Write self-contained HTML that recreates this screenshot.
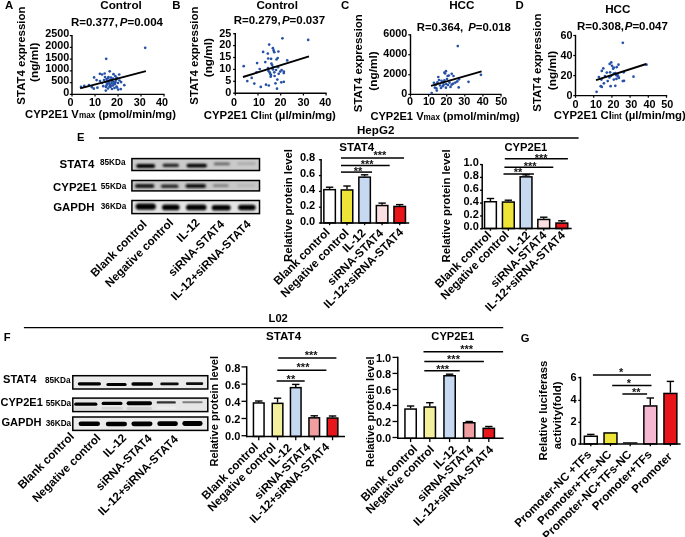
<!DOCTYPE html>
<html><head><meta charset="utf-8"><style>
html,body{margin:0;padding:0;background:#fff;}
svg{display:block;will-change:transform;}
text{font-family:"Liberation Sans", sans-serif;}
</style></head><body>
<svg width="685" height="537" viewBox="0 0 685 537">
<defs><filter id="blur" x="-20%" y="-80%" width="140%" height="260%"><feGaussianBlur stdDeviation="0.85"/></filter>
<filter id="blur2" x="-20%" y="-80%" width="140%" height="260%"><feGaussianBlur stdDeviation="0.6"/></filter></defs>
<rect x="0" y="0" width="685" height="537" fill="#fff"/>
<text x="5.00" y="9.20" font-size="11.4" text-anchor="start" font-weight="bold" fill="#000"  style="">A</text>
<text x="121.00" y="8.80" font-size="11.7" text-anchor="middle" font-weight="bold" fill="#000"  style="">Control</text>
<text x="70.90" y="25.90" font-size="11.5" font-weight="bold">R=0.377, <tspan font-style="italic" dx="-1.3">P</tspan>=0.004</text>
<line x1="72.00" y1="35.00" x2="72.00" y2="95.00" stroke="#000" stroke-width="1.4" stroke-linecap="butt"/>
<line x1="69.80" y1="35.60" x2="72.00" y2="35.60" stroke="#000" stroke-width="1.2" stroke-linecap="butt"/>
<text x="69.20" y="37.20" font-size="10.8" text-anchor="end" font-weight="bold" fill="#000"  style="">2500</text>
<line x1="69.80" y1="47.36" x2="72.00" y2="47.36" stroke="#000" stroke-width="1.2" stroke-linecap="butt"/>
<text x="69.20" y="48.96" font-size="10.8" text-anchor="end" font-weight="bold" fill="#000"  style="">2000</text>
<line x1="69.80" y1="59.12" x2="72.00" y2="59.12" stroke="#000" stroke-width="1.2" stroke-linecap="butt"/>
<text x="69.20" y="60.72" font-size="10.8" text-anchor="end" font-weight="bold" fill="#000"  style="">1500</text>
<line x1="69.80" y1="70.88" x2="72.00" y2="70.88" stroke="#000" stroke-width="1.2" stroke-linecap="butt"/>
<text x="69.20" y="72.48" font-size="10.8" text-anchor="end" font-weight="bold" fill="#000"  style="">1000</text>
<line x1="69.80" y1="82.64" x2="72.00" y2="82.64" stroke="#000" stroke-width="1.2" stroke-linecap="butt"/>
<text x="69.20" y="84.24" font-size="10.8" text-anchor="end" font-weight="bold" fill="#000"  style="">500</text>
<line x1="69.80" y1="94.40" x2="72.00" y2="94.40" stroke="#000" stroke-width="1.2" stroke-linecap="butt"/>
<text x="69.20" y="96.00" font-size="10.8" text-anchor="end" font-weight="bold" fill="#000"  style="">0</text>
<line x1="71.40" y1="94.40" x2="164.60" y2="94.40" stroke="#000" stroke-width="1.4" stroke-linecap="butt"/>
<line x1="72.00" y1="94.40" x2="72.00" y2="96.60" stroke="#000" stroke-width="1.2" stroke-linecap="butt"/>
<line x1="95.00" y1="94.40" x2="95.00" y2="96.60" stroke="#000" stroke-width="1.2" stroke-linecap="butt"/>
<line x1="118.00" y1="94.40" x2="118.00" y2="96.60" stroke="#000" stroke-width="1.2" stroke-linecap="butt"/>
<line x1="141.00" y1="94.40" x2="141.00" y2="96.60" stroke="#000" stroke-width="1.2" stroke-linecap="butt"/>
<line x1="164.00" y1="94.40" x2="164.00" y2="96.60" stroke="#000" stroke-width="1.2" stroke-linecap="butt"/>
<text x="70.60" y="106.20" font-size="10.8" text-anchor="middle" font-weight="bold" fill="#000"  style="">0</text>
<text x="95.10" y="106.20" font-size="10.8" text-anchor="middle" font-weight="bold" fill="#000"  style="">10</text>
<text x="117.00" y="106.20" font-size="10.8" text-anchor="middle" font-weight="bold" fill="#000"  style="">20</text>
<text x="139.70" y="106.20" font-size="10.8" text-anchor="middle" font-weight="bold" fill="#000"  style="">30</text>
<text x="162.10" y="106.20" font-size="10.8" text-anchor="middle" font-weight="bold" fill="#000"  style="">40</text>
<circle cx="145.20" cy="47.80" r="1.35" fill="#2651a6"/>
<circle cx="106.20" cy="58.80" r="1.35" fill="#2651a6"/>
<circle cx="109.70" cy="71.30" r="1.35" fill="#2651a6"/>
<circle cx="99.90" cy="73.80" r="1.35" fill="#2651a6"/>
<circle cx="102.10" cy="74.50" r="1.35" fill="#2651a6"/>
<circle cx="104.70" cy="73.50" r="1.35" fill="#2651a6"/>
<circle cx="94.10" cy="77.40" r="1.35" fill="#2651a6"/>
<circle cx="96.60" cy="80.10" r="1.35" fill="#2651a6"/>
<circle cx="113.50" cy="74.20" r="1.35" fill="#2651a6"/>
<circle cx="115.30" cy="76.00" r="1.35" fill="#2651a6"/>
<circle cx="119.20" cy="74.50" r="1.35" fill="#2651a6"/>
<circle cx="81.00" cy="86.90" r="1.35" fill="#2651a6"/>
<circle cx="84.30" cy="85.90" r="1.35" fill="#2651a6"/>
<circle cx="89.00" cy="85.20" r="1.35" fill="#2651a6"/>
<circle cx="91.90" cy="87.20" r="1.35" fill="#2651a6"/>
<circle cx="93.80" cy="88.70" r="1.35" fill="#2651a6"/>
<circle cx="97.40" cy="87.70" r="1.35" fill="#2651a6"/>
<circle cx="103.30" cy="86.20" r="1.35" fill="#2651a6"/>
<circle cx="105.80" cy="90.60" r="1.35" fill="#2651a6"/>
<circle cx="118.20" cy="89.60" r="1.35" fill="#2651a6"/>
<circle cx="120.80" cy="89.10" r="1.35" fill="#2651a6"/>
<circle cx="124.30" cy="85.20" r="1.35" fill="#2651a6"/>
<circle cx="121.10" cy="82.10" r="1.35" fill="#2651a6"/>
<circle cx="105.00" cy="77.00" r="1.35" fill="#2651a6"/>
<circle cx="106.50" cy="79.00" r="1.35" fill="#2651a6"/>
<circle cx="108.00" cy="78.00" r="1.35" fill="#2651a6"/>
<circle cx="109.50" cy="80.50" r="1.35" fill="#2651a6"/>
<circle cx="111.00" cy="77.50" r="1.35" fill="#2651a6"/>
<circle cx="112.50" cy="79.50" r="1.35" fill="#2651a6"/>
<circle cx="114.00" cy="82.00" r="1.35" fill="#2651a6"/>
<circle cx="116.00" cy="80.00" r="1.35" fill="#2651a6"/>
<circle cx="117.50" cy="78.50" r="1.35" fill="#2651a6"/>
<circle cx="105.50" cy="82.00" r="1.35" fill="#2651a6"/>
<circle cx="107.00" cy="84.00" r="1.35" fill="#2651a6"/>
<circle cx="108.50" cy="82.50" r="1.35" fill="#2651a6"/>
<circle cx="110.00" cy="85.00" r="1.35" fill="#2651a6"/>
<circle cx="111.50" cy="83.00" r="1.35" fill="#2651a6"/>
<circle cx="113.00" cy="85.50" r="1.35" fill="#2651a6"/>
<circle cx="115.00" cy="84.00" r="1.35" fill="#2651a6"/>
<circle cx="116.50" cy="86.50" r="1.35" fill="#2651a6"/>
<circle cx="118.00" cy="83.00" r="1.35" fill="#2651a6"/>
<circle cx="106.00" cy="87.00" r="1.35" fill="#2651a6"/>
<circle cx="108.00" cy="88.50" r="1.35" fill="#2651a6"/>
<circle cx="110.50" cy="87.00" r="1.35" fill="#2651a6"/>
<circle cx="112.00" cy="89.00" r="1.35" fill="#2651a6"/>
<circle cx="114.50" cy="88.00" r="1.35" fill="#2651a6"/>
<circle cx="117.00" cy="87.50" r="1.35" fill="#2651a6"/>
<circle cx="104.00" cy="80.00" r="1.35" fill="#2651a6"/>
<circle cx="119.50" cy="80.50" r="1.35" fill="#2651a6"/>
<circle cx="102.00" cy="83.00" r="1.35" fill="#2651a6"/>
<circle cx="100.00" cy="81.00" r="1.35" fill="#2651a6"/>
<circle cx="107.50" cy="80.50" r="1.35" fill="#2651a6"/>
<circle cx="109.00" cy="83.50" r="1.35" fill="#2651a6"/>
<circle cx="110.50" cy="79.50" r="1.35" fill="#2651a6"/>
<circle cx="112.00" cy="81.50" r="1.35" fill="#2651a6"/>
<circle cx="113.50" cy="84.00" r="1.35" fill="#2651a6"/>
<circle cx="115.50" cy="82.00" r="1.35" fill="#2651a6"/>
<circle cx="106.50" cy="85.50" r="1.35" fill="#2651a6"/>
<circle cx="109.50" cy="86.50" r="1.35" fill="#2651a6"/>
<circle cx="111.50" cy="85.50" r="1.35" fill="#2651a6"/>
<circle cx="108.50" cy="77.00" r="1.35" fill="#2651a6"/>
<circle cx="113.00" cy="78.50" r="1.35" fill="#2651a6"/>
<circle cx="116.50" cy="77.50" r="1.35" fill="#2651a6"/>
<line x1="80.20" y1="88.40" x2="145.90" y2="71.20" stroke="#000" stroke-width="1.9" stroke-linecap="butt"/>
<text x="24.60" y="55.60" font-size="11.45" font-weight="bold" text-anchor="middle" transform="rotate(-90 24.60 55.60)">STAT4 expression</text>
<text x="38.40" y="62.30" font-size="11.8" font-weight="bold" text-anchor="middle" transform="rotate(-90 38.40 62.30)">(ng/ml)</text>
<text x="25.10" y="117.70" font-size="11.25" font-weight="bold">CYP2E1 V<tspan font-size="8.2">max</tspan> (pmol/min/mg)</text>
<text x="172.30" y="9.30" font-size="11.4" text-anchor="start" font-weight="bold" fill="#000"  style="">B</text>
<text x="277.20" y="9.20" font-size="11.7" text-anchor="middle" font-weight="bold" fill="#000"  style="">Control</text>
<text x="233.70" y="24.20" font-size="11.5" font-weight="bold">R=0.279, <tspan font-style="italic" dx="-2">P</tspan>=0.037</text>
<line x1="235.30" y1="33.10" x2="235.30" y2="93.80" stroke="#000" stroke-width="1.4" stroke-linecap="butt"/>
<line x1="233.10" y1="33.70" x2="235.30" y2="33.70" stroke="#000" stroke-width="1.2" stroke-linecap="butt"/>
<text x="231.30" y="36.50" font-size="10.8" text-anchor="end" font-weight="bold" fill="#000"  style="">25</text>
<line x1="233.10" y1="45.60" x2="235.30" y2="45.60" stroke="#000" stroke-width="1.2" stroke-linecap="butt"/>
<text x="231.30" y="48.40" font-size="10.8" text-anchor="end" font-weight="bold" fill="#000"  style="">20</text>
<line x1="233.10" y1="57.50" x2="235.30" y2="57.50" stroke="#000" stroke-width="1.2" stroke-linecap="butt"/>
<text x="231.30" y="60.30" font-size="10.8" text-anchor="end" font-weight="bold" fill="#000"  style="">15</text>
<line x1="233.10" y1="69.40" x2="235.30" y2="69.40" stroke="#000" stroke-width="1.2" stroke-linecap="butt"/>
<text x="231.30" y="72.20" font-size="10.8" text-anchor="end" font-weight="bold" fill="#000"  style="">10</text>
<line x1="233.10" y1="81.30" x2="235.30" y2="81.30" stroke="#000" stroke-width="1.2" stroke-linecap="butt"/>
<text x="231.30" y="84.10" font-size="10.8" text-anchor="end" font-weight="bold" fill="#000"  style="">5</text>
<line x1="233.10" y1="93.20" x2="235.30" y2="93.20" stroke="#000" stroke-width="1.2" stroke-linecap="butt"/>
<text x="231.30" y="96.00" font-size="10.8" text-anchor="end" font-weight="bold" fill="#000"  style="">0</text>
<line x1="234.70" y1="93.20" x2="326.60" y2="93.20" stroke="#000" stroke-width="1.4" stroke-linecap="butt"/>
<line x1="235.30" y1="93.20" x2="235.30" y2="95.40" stroke="#000" stroke-width="1.2" stroke-linecap="butt"/>
<line x1="258.00" y1="93.20" x2="258.00" y2="95.40" stroke="#000" stroke-width="1.2" stroke-linecap="butt"/>
<line x1="280.70" y1="93.20" x2="280.70" y2="95.40" stroke="#000" stroke-width="1.2" stroke-linecap="butt"/>
<line x1="303.40" y1="93.20" x2="303.40" y2="95.40" stroke="#000" stroke-width="1.2" stroke-linecap="butt"/>
<line x1="326.10" y1="93.20" x2="326.10" y2="95.40" stroke="#000" stroke-width="1.2" stroke-linecap="butt"/>
<text x="233.90" y="106.00" font-size="10.8" text-anchor="middle" font-weight="bold" fill="#000"  style="">0</text>
<text x="259.00" y="106.00" font-size="10.8" text-anchor="middle" font-weight="bold" fill="#000"  style="">10</text>
<text x="280.40" y="106.00" font-size="10.8" text-anchor="middle" font-weight="bold" fill="#000"  style="">20</text>
<text x="303.40" y="106.00" font-size="10.8" text-anchor="middle" font-weight="bold" fill="#000"  style="">30</text>
<text x="325.30" y="106.00" font-size="10.8" text-anchor="middle" font-weight="bold" fill="#000"  style="">40</text>
<circle cx="282.40" cy="38.30" r="1.35" fill="#2651a6"/>
<circle cx="308.20" cy="39.90" r="1.35" fill="#2651a6"/>
<circle cx="269.20" cy="44.60" r="1.35" fill="#2651a6"/>
<circle cx="272.90" cy="48.20" r="1.35" fill="#2651a6"/>
<circle cx="273.60" cy="50.40" r="1.35" fill="#2651a6"/>
<circle cx="274.30" cy="52.20" r="1.35" fill="#2651a6"/>
<circle cx="263.10" cy="51.90" r="1.35" fill="#2651a6"/>
<circle cx="267.80" cy="53.60" r="1.35" fill="#2651a6"/>
<circle cx="278.40" cy="51.50" r="1.35" fill="#2651a6"/>
<circle cx="268.20" cy="58.50" r="1.35" fill="#2651a6"/>
<circle cx="271.10" cy="58.80" r="1.35" fill="#2651a6"/>
<circle cx="276.50" cy="59.50" r="1.35" fill="#2651a6"/>
<circle cx="277.70" cy="58.00" r="1.35" fill="#2651a6"/>
<circle cx="287.20" cy="60.40" r="1.35" fill="#2651a6"/>
<circle cx="243.70" cy="66.20" r="1.35" fill="#2651a6"/>
<circle cx="257.10" cy="63.10" r="1.35" fill="#2651a6"/>
<circle cx="265.30" cy="62.10" r="1.35" fill="#2651a6"/>
<circle cx="271.40" cy="63.60" r="1.35" fill="#2651a6"/>
<circle cx="272.10" cy="65.00" r="1.35" fill="#2651a6"/>
<circle cx="259.70" cy="69.00" r="1.35" fill="#2651a6"/>
<circle cx="278.00" cy="67.20" r="1.35" fill="#2651a6"/>
<circle cx="256.50" cy="72.30" r="1.35" fill="#2651a6"/>
<circle cx="268.50" cy="70.90" r="1.35" fill="#2651a6"/>
<circle cx="269.70" cy="72.30" r="1.35" fill="#2651a6"/>
<circle cx="270.20" cy="73.80" r="1.35" fill="#2651a6"/>
<circle cx="270.70" cy="76.70" r="1.35" fill="#2651a6"/>
<circle cx="272.90" cy="69.40" r="1.35" fill="#2651a6"/>
<circle cx="274.30" cy="72.30" r="1.35" fill="#2651a6"/>
<circle cx="274.60" cy="76.00" r="1.35" fill="#2651a6"/>
<circle cx="278.70" cy="73.80" r="1.35" fill="#2651a6"/>
<circle cx="280.20" cy="71.60" r="1.35" fill="#2651a6"/>
<circle cx="281.60" cy="70.10" r="1.35" fill="#2651a6"/>
<circle cx="283.80" cy="71.60" r="1.35" fill="#2651a6"/>
<circle cx="283.80" cy="73.10" r="1.35" fill="#2651a6"/>
<circle cx="251.70" cy="77.90" r="1.35" fill="#2651a6"/>
<circle cx="247.30" cy="81.10" r="1.35" fill="#2651a6"/>
<circle cx="254.30" cy="83.60" r="1.35" fill="#2651a6"/>
<circle cx="260.80" cy="86.90" r="1.35" fill="#2651a6"/>
<circle cx="266.00" cy="84.70" r="1.35" fill="#2651a6"/>
<circle cx="268.80" cy="85.50" r="1.35" fill="#2651a6"/>
<circle cx="275.50" cy="83.30" r="1.35" fill="#2651a6"/>
<circle cx="277.30" cy="79.60" r="1.35" fill="#2651a6"/>
<circle cx="281.30" cy="82.30" r="1.35" fill="#2651a6"/>
<circle cx="283.80" cy="81.80" r="1.35" fill="#2651a6"/>
<circle cx="277.00" cy="88.70" r="1.35" fill="#2651a6"/>
<circle cx="268.00" cy="68.00" r="1.35" fill="#2651a6"/>
<circle cx="276.00" cy="70.00" r="1.35" fill="#2651a6"/>
<circle cx="271.00" cy="75.00" r="1.35" fill="#2651a6"/>
<circle cx="273.00" cy="67.00" r="1.35" fill="#2651a6"/>
<line x1="243.00" y1="77.00" x2="309.00" y2="56.30" stroke="#000" stroke-width="1.9" stroke-linecap="butt"/>
<text x="197.80" y="55.60" font-size="11.45" font-weight="bold" text-anchor="middle" transform="rotate(-90 197.80 55.60)">STAT4 expression</text>
<text x="211.60" y="57.60" font-size="11.8" font-weight="bold" text-anchor="middle" transform="rotate(-90 211.60 57.60)">(ng/ml)</text>
<text x="203.80" y="118.80" font-size="11.37" font-weight="bold">CYP2E1 Cl<tspan font-size="8.2">int</tspan> (µl/min/mg)</text>
<text x="341.00" y="9.30" font-size="11.4" text-anchor="start" font-weight="bold" fill="#000"  style="">C</text>
<text x="461.80" y="9.20" font-size="11.7" text-anchor="middle" font-weight="bold" fill="#000"  style="">HCC</text>
<text x="416.80" y="31.00" font-size="11.35" font-weight="bold">R=0.364,&#160; <tspan font-style="italic" dx="-1.2">P</tspan>=0.018</text>
<line x1="410.50" y1="34.20" x2="410.50" y2="95.00" stroke="#000" stroke-width="1.4" stroke-linecap="butt"/>
<line x1="408.30" y1="34.80" x2="410.50" y2="34.80" stroke="#000" stroke-width="1.2" stroke-linecap="butt"/>
<text x="407.20" y="36.90" font-size="10.8" text-anchor="end" font-weight="bold" fill="#000"  style="">6000</text>
<line x1="408.30" y1="54.70" x2="410.50" y2="54.70" stroke="#000" stroke-width="1.2" stroke-linecap="butt"/>
<text x="407.20" y="56.80" font-size="10.8" text-anchor="end" font-weight="bold" fill="#000"  style="">4000</text>
<line x1="408.30" y1="74.70" x2="410.50" y2="74.70" stroke="#000" stroke-width="1.2" stroke-linecap="butt"/>
<text x="407.20" y="76.80" font-size="10.8" text-anchor="end" font-weight="bold" fill="#000"  style="">2000</text>
<line x1="408.30" y1="94.40" x2="410.50" y2="94.40" stroke="#000" stroke-width="1.2" stroke-linecap="butt"/>
<text x="407.20" y="96.50" font-size="10.8" text-anchor="end" font-weight="bold" fill="#000"  style="">0</text>
<line x1="409.90" y1="94.40" x2="501.60" y2="94.40" stroke="#000" stroke-width="1.4" stroke-linecap="butt"/>
<line x1="410.50" y1="94.40" x2="410.50" y2="96.60" stroke="#000" stroke-width="1.2" stroke-linecap="butt"/>
<line x1="428.60" y1="94.40" x2="428.60" y2="96.60" stroke="#000" stroke-width="1.2" stroke-linecap="butt"/>
<line x1="446.70" y1="94.40" x2="446.70" y2="96.60" stroke="#000" stroke-width="1.2" stroke-linecap="butt"/>
<line x1="464.80" y1="94.40" x2="464.80" y2="96.60" stroke="#000" stroke-width="1.2" stroke-linecap="butt"/>
<line x1="482.90" y1="94.40" x2="482.90" y2="96.60" stroke="#000" stroke-width="1.2" stroke-linecap="butt"/>
<line x1="501.00" y1="94.40" x2="501.00" y2="96.60" stroke="#000" stroke-width="1.2" stroke-linecap="butt"/>
<text x="410.00" y="105.40" font-size="10.8" text-anchor="middle" font-weight="bold" fill="#000"  style="">0</text>
<text x="428.90" y="105.40" font-size="10.8" text-anchor="middle" font-weight="bold" fill="#000"  style="">10</text>
<text x="446.60" y="105.40" font-size="10.8" text-anchor="middle" font-weight="bold" fill="#000"  style="">20</text>
<text x="464.20" y="105.40" font-size="10.8" text-anchor="middle" font-weight="bold" fill="#000"  style="">30</text>
<text x="482.70" y="105.40" font-size="10.8" text-anchor="middle" font-weight="bold" fill="#000"  style="">40</text>
<text x="501.20" y="105.40" font-size="10.8" text-anchor="middle" font-weight="bold" fill="#000"  style="">50</text>
<circle cx="457.80" cy="46.10" r="1.35" fill="#2651a6"/>
<circle cx="480.90" cy="74.80" r="1.35" fill="#2651a6"/>
<circle cx="468.50" cy="81.80" r="1.35" fill="#2651a6"/>
<circle cx="458.70" cy="87.40" r="1.35" fill="#2651a6"/>
<circle cx="431.70" cy="93.10" r="1.35" fill="#2651a6"/>
<circle cx="436.80" cy="90.60" r="1.35" fill="#2651a6"/>
<circle cx="438.30" cy="77.00" r="1.35" fill="#2651a6"/>
<circle cx="444.40" cy="72.60" r="1.35" fill="#2651a6"/>
<circle cx="445.90" cy="71.20" r="1.35" fill="#2651a6"/>
<circle cx="445.10" cy="73.50" r="1.35" fill="#2651a6"/>
<circle cx="447.60" cy="76.00" r="1.35" fill="#2651a6"/>
<circle cx="448.80" cy="75.50" r="1.35" fill="#2651a6"/>
<circle cx="451.70" cy="73.80" r="1.35" fill="#2651a6"/>
<circle cx="453.50" cy="76.00" r="1.35" fill="#2651a6"/>
<circle cx="433.90" cy="82.80" r="1.35" fill="#2651a6"/>
<circle cx="435.70" cy="84.70" r="1.35" fill="#2651a6"/>
<circle cx="434.90" cy="87.70" r="1.35" fill="#2651a6"/>
<circle cx="436.40" cy="88.40" r="1.35" fill="#2651a6"/>
<circle cx="441.50" cy="80.80" r="1.35" fill="#2651a6"/>
<circle cx="443.20" cy="82.30" r="1.35" fill="#2651a6"/>
<circle cx="444.40" cy="80.40" r="1.35" fill="#2651a6"/>
<circle cx="440.00" cy="85.50" r="1.35" fill="#2651a6"/>
<circle cx="442.70" cy="86.20" r="1.35" fill="#2651a6"/>
<circle cx="443.70" cy="84.70" r="1.35" fill="#2651a6"/>
<circle cx="445.90" cy="87.70" r="1.35" fill="#2651a6"/>
<circle cx="446.20" cy="84.00" r="1.35" fill="#2651a6"/>
<circle cx="449.50" cy="82.60" r="1.35" fill="#2651a6"/>
<circle cx="450.50" cy="86.90" r="1.35" fill="#2651a6"/>
<circle cx="451.70" cy="84.70" r="1.35" fill="#2651a6"/>
<circle cx="453.20" cy="83.70" r="1.35" fill="#2651a6"/>
<circle cx="455.40" cy="82.60" r="1.35" fill="#2651a6"/>
<circle cx="457.30" cy="81.40" r="1.35" fill="#2651a6"/>
<circle cx="459.00" cy="79.30" r="1.35" fill="#2651a6"/>
<circle cx="437.40" cy="82.30" r="1.35" fill="#2651a6"/>
<circle cx="447.00" cy="79.00" r="1.35" fill="#2651a6"/>
<circle cx="439.00" cy="80.00" r="1.35" fill="#2651a6"/>
<circle cx="448.00" cy="85.00" r="1.35" fill="#2651a6"/>
<circle cx="441.00" cy="88.00" r="1.35" fill="#2651a6"/>
<line x1="431.00" y1="85.80" x2="481.60" y2="71.30" stroke="#000" stroke-width="1.9" stroke-linecap="butt"/>
<text x="362.00" y="63.20" font-size="11.45" font-weight="bold" text-anchor="middle" transform="rotate(-90 362.00 63.20)">STAT4 expression</text>
<text x="376.60" y="71.00" font-size="11.8" font-weight="bold" text-anchor="middle" transform="rotate(-90 376.60 71.00)">(ng/ml)</text>
<text x="370.40" y="119.80" font-size="11.13" font-weight="bold">CYP2E1 V<tspan font-size="8.2">max</tspan> (pmol/min/mg)</text>
<text x="515.50" y="8.80" font-size="11.4" text-anchor="start" font-weight="bold" fill="#000"  style="">D</text>
<text x="617.80" y="12.70" font-size="11.7" text-anchor="middle" font-weight="bold" fill="#000"  style="">HCC</text>
<text x="577.00" y="29.60" font-size="11.5" font-weight="bold">R=0.308, <tspan font-style="italic" dx="-2.5">P</tspan>=0.047</text>
<line x1="575.50" y1="34.90" x2="575.50" y2="96.20" stroke="#000" stroke-width="1.4" stroke-linecap="butt"/>
<line x1="573.30" y1="35.50" x2="575.50" y2="35.50" stroke="#000" stroke-width="1.2" stroke-linecap="butt"/>
<text x="572.40" y="39.00" font-size="10.8" text-anchor="end" font-weight="bold" fill="#000"  style="">60</text>
<line x1="573.30" y1="55.50" x2="575.50" y2="55.50" stroke="#000" stroke-width="1.2" stroke-linecap="butt"/>
<text x="572.40" y="59.00" font-size="10.8" text-anchor="end" font-weight="bold" fill="#000"  style="">40</text>
<line x1="573.30" y1="75.60" x2="575.50" y2="75.60" stroke="#000" stroke-width="1.2" stroke-linecap="butt"/>
<text x="572.40" y="79.10" font-size="10.8" text-anchor="end" font-weight="bold" fill="#000"  style="">20</text>
<line x1="573.30" y1="95.60" x2="575.50" y2="95.60" stroke="#000" stroke-width="1.2" stroke-linecap="butt"/>
<text x="572.40" y="99.10" font-size="10.8" text-anchor="end" font-weight="bold" fill="#000"  style="">0</text>
<line x1="574.90" y1="95.60" x2="667.20" y2="95.60" stroke="#000" stroke-width="1.4" stroke-linecap="butt"/>
<line x1="575.50" y1="95.60" x2="575.50" y2="97.80" stroke="#000" stroke-width="1.2" stroke-linecap="butt"/>
<line x1="593.70" y1="95.60" x2="593.70" y2="97.80" stroke="#000" stroke-width="1.2" stroke-linecap="butt"/>
<line x1="611.90" y1="95.60" x2="611.90" y2="97.80" stroke="#000" stroke-width="1.2" stroke-linecap="butt"/>
<line x1="630.10" y1="95.60" x2="630.10" y2="97.80" stroke="#000" stroke-width="1.2" stroke-linecap="butt"/>
<line x1="648.30" y1="95.60" x2="648.30" y2="97.80" stroke="#000" stroke-width="1.2" stroke-linecap="butt"/>
<line x1="666.50" y1="95.60" x2="666.50" y2="97.80" stroke="#000" stroke-width="1.2" stroke-linecap="butt"/>
<text x="575.50" y="108.00" font-size="10.8" text-anchor="middle" font-weight="bold" fill="#000"  style="">0</text>
<text x="596.10" y="108.00" font-size="10.8" text-anchor="middle" font-weight="bold" fill="#000"  style="">10</text>
<text x="613.50" y="108.00" font-size="10.8" text-anchor="middle" font-weight="bold" fill="#000"  style="">20</text>
<text x="631.30" y="108.00" font-size="10.8" text-anchor="middle" font-weight="bold" fill="#000"  style="">30</text>
<text x="649.50" y="108.00" font-size="10.8" text-anchor="middle" font-weight="bold" fill="#000"  style="">40</text>
<text x="667.30" y="108.00" font-size="10.8" text-anchor="middle" font-weight="bold" fill="#000"  style="">50</text>
<circle cx="622.80" cy="42.80" r="1.35" fill="#2651a6"/>
<circle cx="646.50" cy="64.70" r="1.35" fill="#2651a6"/>
<circle cx="633.50" cy="76.70" r="1.35" fill="#2651a6"/>
<circle cx="596.60" cy="91.80" r="1.35" fill="#2651a6"/>
<circle cx="600.70" cy="86.20" r="1.35" fill="#2651a6"/>
<circle cx="601.80" cy="86.90" r="1.35" fill="#2651a6"/>
<circle cx="603.90" cy="83.30" r="1.35" fill="#2651a6"/>
<circle cx="607.70" cy="81.10" r="1.35" fill="#2651a6"/>
<circle cx="610.60" cy="86.20" r="1.35" fill="#2651a6"/>
<circle cx="615.30" cy="85.80" r="1.35" fill="#2651a6"/>
<circle cx="622.80" cy="81.10" r="1.35" fill="#2651a6"/>
<circle cx="624.00" cy="80.80" r="1.35" fill="#2651a6"/>
<circle cx="598.90" cy="77.00" r="1.35" fill="#2651a6"/>
<circle cx="601.40" cy="79.60" r="1.35" fill="#2651a6"/>
<circle cx="601.80" cy="70.90" r="1.35" fill="#2651a6"/>
<circle cx="603.30" cy="68.40" r="1.35" fill="#2651a6"/>
<circle cx="606.80" cy="72.60" r="1.35" fill="#2651a6"/>
<circle cx="609.40" cy="77.40" r="1.35" fill="#2651a6"/>
<circle cx="610.10" cy="72.30" r="1.35" fill="#2651a6"/>
<circle cx="609.70" cy="63.90" r="1.35" fill="#2651a6"/>
<circle cx="611.30" cy="62.40" r="1.35" fill="#2651a6"/>
<circle cx="612.00" cy="65.80" r="1.35" fill="#2651a6"/>
<circle cx="613.10" cy="68.70" r="1.35" fill="#2651a6"/>
<circle cx="613.80" cy="67.70" r="1.35" fill="#2651a6"/>
<circle cx="616.70" cy="67.20" r="1.35" fill="#2651a6"/>
<circle cx="618.50" cy="64.70" r="1.35" fill="#2651a6"/>
<circle cx="613.80" cy="73.50" r="1.35" fill="#2651a6"/>
<circle cx="615.30" cy="73.10" r="1.35" fill="#2651a6"/>
<circle cx="616.40" cy="75.30" r="1.35" fill="#2651a6"/>
<circle cx="617.40" cy="74.50" r="1.35" fill="#2651a6"/>
<circle cx="618.20" cy="76.40" r="1.35" fill="#2651a6"/>
<circle cx="613.80" cy="79.60" r="1.35" fill="#2651a6"/>
<circle cx="616.40" cy="78.90" r="1.35" fill="#2651a6"/>
<circle cx="618.90" cy="77.90" r="1.35" fill="#2651a6"/>
<circle cx="623.70" cy="72.30" r="1.35" fill="#2651a6"/>
<circle cx="605.00" cy="76.00" r="1.35" fill="#2651a6"/>
<circle cx="611.00" cy="76.00" r="1.35" fill="#2651a6"/>
<line x1="596.00" y1="80.10" x2="646.20" y2="64.00" stroke="#000" stroke-width="1.9" stroke-linecap="butt"/>
<text x="541.20" y="62.60" font-size="11.45" font-weight="bold" text-anchor="middle" transform="rotate(-90 541.20 62.60)">STAT4 expression</text>
<text x="555.50" y="70.50" font-size="11.8" font-weight="bold" text-anchor="middle" transform="rotate(-90 555.50 70.50)">(ng/ml)</text>
<text x="553.80" y="118.60" font-size="11.35" font-weight="bold">CYP2E1 Cl<tspan font-size="8.2">int</tspan> (µl/min/mg)</text>
<text x="77.00" y="140.80" font-size="11.2" text-anchor="start" font-weight="bold" fill="#000"  style="">E</text>
<line x1="99.00" y1="138.00" x2="578.60" y2="138.00" stroke="#000" stroke-width="1.4" stroke-linecap="butt"/>
<text x="375.70" y="134.00" font-size="11.6" text-anchor="middle" font-weight="bold" fill="#000"  style="">HepG2</text>
<text x="94.30" y="167.90" font-size="11.5" text-anchor="end" font-weight="bold" fill="#000"  style="">STAT4</text>
<text x="96.80" y="190.80" font-size="11.4" text-anchor="end" font-weight="bold" fill="#000"  style="">CYP2E1</text>
<text x="94.40" y="211.00" font-size="11.4" text-anchor="end" font-weight="bold" fill="#000"  style="">GAPDH</text>
<text x="100.00" y="164.60" font-size="8.2" text-anchor="start" font-weight="bold" fill="#000"  style="">85KDa</text>
<text x="100.80" y="188.80" font-size="8.2" text-anchor="start" font-weight="bold" fill="#000"  style="">55KDa</text>
<text x="100.80" y="209.00" font-size="8.2" text-anchor="start" font-weight="bold" fill="#000"  style="">36KDa</text>
<rect x="131.90" y="158.60" width="127.60" height="11.90" fill="#cacaca" stroke="#000" stroke-width="1.5"/>
<rect x="136.20" y="164.00" width="19.00" height="4.00" rx="2.00" fill="rgb(0,0,0)" filter="url(#blur)"/>
<rect x="162.60" y="163.70" width="16.40" height="3.20" rx="1.60" fill="rgb(30,30,30)" filter="url(#blur)"/>
<rect x="186.50" y="163.70" width="20.50" height="3.80" rx="1.90" fill="rgb(0,0,0)" filter="url(#blur)"/>
<rect x="213.80" y="162.60" width="16.10" height="2.60" rx="1.30" fill="rgb(102,102,102)" filter="url(#blur)"/>
<rect x="237.00" y="162.50" width="18.70" height="2.20" rx="1.10" fill="rgb(165,165,165)" filter="url(#blur)"/>
<rect x="131.90" y="180.50" width="127.60" height="10.40" fill="#c8c8c8" stroke="#000" stroke-width="1.5"/>
<rect x="135.00" y="184.10" width="19.40" height="3.80" rx="1.90" fill="rgb(20,20,20)" filter="url(#blur)"/>
<rect x="160.90" y="184.50" width="17.60" height="3.40" rx="1.70" fill="rgb(38,38,38)" filter="url(#blur)"/>
<rect x="185.50" y="184.10" width="20.50" height="3.80" rx="1.90" fill="rgb(12,12,12)" filter="url(#blur)"/>
<rect x="212.90" y="184.30" width="15.80" height="2.60" rx="1.30" fill="rgb(127,127,127)" filter="url(#blur)"/>
<rect x="237.00" y="184.40" width="18.00" height="2.20" rx="1.10" fill="rgb(178,178,178)" filter="url(#blur)"/>
<rect x="131.90" y="200.50" width="127.60" height="13.10" fill="#e4e4e4" stroke="#000" stroke-width="1.5"/>
<rect x="135.60" y="203.50" width="20.30" height="6.20" rx="3.00" fill="rgb(0,0,0)" filter="url(#blur)"/>
<rect x="162.00" y="204.60" width="17.60" height="5.60" rx="2.80" fill="rgb(0,0,0)" filter="url(#blur)"/>
<rect x="186.00" y="204.50" width="20.50" height="5.80" rx="2.90" fill="rgb(0,0,0)" filter="url(#blur)"/>
<rect x="211.70" y="205.00" width="19.00" height="5.60" rx="2.80" fill="rgb(0,0,0)" filter="url(#blur)"/>
<rect x="238.10" y="204.70" width="17.60" height="5.60" rx="2.80" fill="rgb(0,0,0)" filter="url(#blur)"/>
<text x="147.60" y="225.00" font-size="11.6" text-anchor="end" font-weight="bold" transform="rotate(-45 147.60 225.00)">Blank control</text>
<text x="174.00" y="223.50" font-size="11.6" text-anchor="end" font-weight="bold" transform="rotate(-45 174.00 223.50)">Negative control</text>
<text x="200.30" y="223.50" font-size="11.6" text-anchor="end" font-weight="bold" transform="rotate(-45 200.30 223.50)">IL-12</text>
<text x="225.20" y="225.00" font-size="11.6" text-anchor="end" font-weight="bold" transform="rotate(-45 225.20 225.00)">siRNA-STAT4</text>
<text x="251.60" y="225.00" font-size="11.6" text-anchor="end" font-weight="bold" transform="rotate(-45 251.60 225.00)">IL-12+siRNA-STAT4</text>
<text x="356.70" y="150.60" font-size="11.6" text-anchor="middle" font-weight="bold" fill="#000"  style="">STAT4</text>
<line x1="321.10" y1="159.10" x2="321.10" y2="223.65" stroke="#000" stroke-width="1.5" stroke-linecap="butt"/>
<line x1="318.90" y1="223.00" x2="321.10" y2="223.00" stroke="#000" stroke-width="1.3" stroke-linecap="butt"/>
<text x="315.20" y="224.60" font-size="11" text-anchor="end" font-weight="bold" fill="#000"  style="">0.0</text>
<line x1="318.90" y1="207.20" x2="321.10" y2="207.20" stroke="#000" stroke-width="1.3" stroke-linecap="butt"/>
<text x="315.20" y="208.80" font-size="11" text-anchor="end" font-weight="bold" fill="#000"  style="">0.2</text>
<line x1="318.90" y1="191.40" x2="321.10" y2="191.40" stroke="#000" stroke-width="1.3" stroke-linecap="butt"/>
<text x="315.20" y="193.00" font-size="11" text-anchor="end" font-weight="bold" fill="#000"  style="">0.4</text>
<line x1="318.90" y1="175.60" x2="321.10" y2="175.60" stroke="#000" stroke-width="1.3" stroke-linecap="butt"/>
<text x="315.20" y="177.20" font-size="11" text-anchor="end" font-weight="bold" fill="#000"  style="">0.6</text>
<line x1="318.90" y1="159.80" x2="321.10" y2="159.80" stroke="#000" stroke-width="1.3" stroke-linecap="butt"/>
<text x="315.20" y="161.40" font-size="11" text-anchor="end" font-weight="bold" fill="#000"  style="">0.8</text>
<line x1="329.60" y1="187.20" x2="329.60" y2="188.90" stroke="#000" stroke-width="1.4" stroke-linecap="butt"/>
<line x1="325.90" y1="187.20" x2="333.30" y2="187.20" stroke="#000" stroke-width="1.4" stroke-linecap="butt"/>
<rect x="323.85" y="189.65" width="11.50" height="33.25" fill="#fff" stroke="#000" stroke-width="1.5"/>
<line x1="329.60" y1="222.90" x2="329.60" y2="225.20" stroke="#000" stroke-width="1.3" stroke-linecap="butt"/>
<line x1="347.00" y1="186.00" x2="347.00" y2="189.20" stroke="#000" stroke-width="1.4" stroke-linecap="butt"/>
<line x1="343.30" y1="186.00" x2="350.70" y2="186.00" stroke="#000" stroke-width="1.4" stroke-linecap="butt"/>
<rect x="341.25" y="189.95" width="11.50" height="32.95" fill="#ede437" stroke="#000" stroke-width="1.5"/>
<line x1="347.00" y1="222.90" x2="347.00" y2="225.20" stroke="#000" stroke-width="1.3" stroke-linecap="butt"/>
<line x1="364.60" y1="174.80" x2="364.60" y2="176.40" stroke="#000" stroke-width="1.4" stroke-linecap="butt"/>
<line x1="360.90" y1="174.80" x2="368.30" y2="174.80" stroke="#000" stroke-width="1.4" stroke-linecap="butt"/>
<rect x="358.85" y="177.15" width="11.50" height="45.75" fill="#c6d9f0" stroke="#000" stroke-width="1.5"/>
<line x1="364.60" y1="222.90" x2="364.60" y2="225.20" stroke="#000" stroke-width="1.3" stroke-linecap="butt"/>
<line x1="382.10" y1="203.10" x2="382.10" y2="204.80" stroke="#000" stroke-width="1.4" stroke-linecap="butt"/>
<line x1="378.40" y1="203.10" x2="385.80" y2="203.10" stroke="#000" stroke-width="1.4" stroke-linecap="butt"/>
<rect x="376.35" y="205.55" width="11.50" height="17.35" fill="#fbdfe0" stroke="#000" stroke-width="1.5"/>
<line x1="382.10" y1="222.90" x2="382.10" y2="225.20" stroke="#000" stroke-width="1.3" stroke-linecap="butt"/>
<line x1="399.70" y1="204.60" x2="399.70" y2="205.70" stroke="#000" stroke-width="1.4" stroke-linecap="butt"/>
<line x1="396.00" y1="204.60" x2="403.40" y2="204.60" stroke="#000" stroke-width="1.4" stroke-linecap="butt"/>
<rect x="393.95" y="206.45" width="11.50" height="16.45" fill="#e8161b" stroke="#000" stroke-width="1.5"/>
<line x1="399.70" y1="222.90" x2="399.70" y2="225.20" stroke="#000" stroke-width="1.3" stroke-linecap="butt"/>
<line x1="320.35" y1="222.90" x2="409.20" y2="222.90" stroke="#000" stroke-width="1.5" stroke-linecap="butt"/>
<text x="292.20" y="262.00" font-size="11.3" font-weight="bold" text-anchor="start" transform="rotate(-90 292.20 262.00)">Relative protein level</text>
<line x1="341.00" y1="158.00" x2="404.00" y2="158.00" stroke="#000" stroke-width="1.5" stroke-linecap="butt"/>
<text x="379.90" y="159.30" font-size="11" font-weight="bold" fill="#111" text-anchor="middle">***</text>
<line x1="341.00" y1="165.40" x2="389.70" y2="165.40" stroke="#000" stroke-width="1.5" stroke-linecap="butt"/>
<text x="367.20" y="168.10" font-size="11" font-weight="bold" fill="#111" text-anchor="middle">***</text>
<line x1="341.00" y1="172.10" x2="372.00" y2="172.10" stroke="#000" stroke-width="1.5" stroke-linecap="butt"/>
<text x="358.10" y="174.60" font-size="11" font-weight="bold" fill="#111" text-anchor="middle">**</text>
<text x="525.90" y="150.70" font-size="11.2" text-anchor="middle" font-weight="bold" fill="#000"  style="">CYP2E1</text>
<line x1="482.20" y1="163.90" x2="482.20" y2="229.25" stroke="#000" stroke-width="1.5" stroke-linecap="butt"/>
<line x1="480.00" y1="228.80" x2="482.20" y2="228.80" stroke="#000" stroke-width="1.3" stroke-linecap="butt"/>
<text x="478.80" y="230.40" font-size="11" text-anchor="end" font-weight="bold" fill="#000"  style="">0.0</text>
<line x1="480.00" y1="215.95" x2="482.20" y2="215.95" stroke="#000" stroke-width="1.3" stroke-linecap="butt"/>
<text x="478.80" y="217.55" font-size="11" text-anchor="end" font-weight="bold" fill="#000"  style="">0.2</text>
<line x1="480.00" y1="203.10" x2="482.20" y2="203.10" stroke="#000" stroke-width="1.3" stroke-linecap="butt"/>
<text x="478.80" y="204.70" font-size="11" text-anchor="end" font-weight="bold" fill="#000"  style="">0.4</text>
<line x1="480.00" y1="190.25" x2="482.20" y2="190.25" stroke="#000" stroke-width="1.3" stroke-linecap="butt"/>
<text x="478.80" y="191.85" font-size="11" text-anchor="end" font-weight="bold" fill="#000"  style="">0.6</text>
<line x1="480.00" y1="177.40" x2="482.20" y2="177.40" stroke="#000" stroke-width="1.3" stroke-linecap="butt"/>
<text x="478.80" y="179.00" font-size="11" text-anchor="end" font-weight="bold" fill="#000"  style="">0.8</text>
<line x1="480.00" y1="164.55" x2="482.20" y2="164.55" stroke="#000" stroke-width="1.3" stroke-linecap="butt"/>
<text x="478.80" y="166.15" font-size="11" text-anchor="end" font-weight="bold" fill="#000"  style="">1.0</text>
<line x1="490.45" y1="198.50" x2="490.45" y2="201.00" stroke="#000" stroke-width="1.4" stroke-linecap="butt"/>
<line x1="486.75" y1="198.50" x2="494.15" y2="198.50" stroke="#000" stroke-width="1.4" stroke-linecap="butt"/>
<rect x="484.55" y="201.75" width="11.80" height="26.75" fill="#fff" stroke="#000" stroke-width="1.5"/>
<line x1="490.45" y1="228.50" x2="490.45" y2="230.80" stroke="#000" stroke-width="1.3" stroke-linecap="butt"/>
<line x1="508.35" y1="200.20" x2="508.35" y2="201.30" stroke="#000" stroke-width="1.4" stroke-linecap="butt"/>
<line x1="504.65" y1="200.20" x2="512.05" y2="200.20" stroke="#000" stroke-width="1.4" stroke-linecap="butt"/>
<rect x="502.45" y="202.05" width="11.80" height="26.45" fill="#ede437" stroke="#000" stroke-width="1.5"/>
<line x1="508.35" y1="228.50" x2="508.35" y2="230.80" stroke="#000" stroke-width="1.3" stroke-linecap="butt"/>
<line x1="526.05" y1="174.80" x2="526.05" y2="176.10" stroke="#000" stroke-width="1.4" stroke-linecap="butt"/>
<line x1="522.35" y1="174.80" x2="529.75" y2="174.80" stroke="#000" stroke-width="1.4" stroke-linecap="butt"/>
<rect x="520.15" y="176.85" width="11.80" height="51.65" fill="#c6d9f0" stroke="#000" stroke-width="1.5"/>
<line x1="526.05" y1="228.50" x2="526.05" y2="230.80" stroke="#000" stroke-width="1.3" stroke-linecap="butt"/>
<line x1="543.75" y1="217.20" x2="543.75" y2="218.70" stroke="#000" stroke-width="1.4" stroke-linecap="butt"/>
<line x1="540.05" y1="217.20" x2="547.45" y2="217.20" stroke="#000" stroke-width="1.4" stroke-linecap="butt"/>
<rect x="537.85" y="219.45" width="11.80" height="9.05" fill="#fbdfe0" stroke="#000" stroke-width="1.5"/>
<line x1="543.75" y1="228.50" x2="543.75" y2="230.80" stroke="#000" stroke-width="1.3" stroke-linecap="butt"/>
<line x1="561.85" y1="220.80" x2="561.85" y2="222.30" stroke="#000" stroke-width="1.4" stroke-linecap="butt"/>
<line x1="558.15" y1="220.80" x2="565.55" y2="220.80" stroke="#000" stroke-width="1.4" stroke-linecap="butt"/>
<rect x="555.95" y="223.05" width="11.80" height="5.45" fill="#e8161b" stroke="#000" stroke-width="1.5"/>
<line x1="561.85" y1="228.50" x2="561.85" y2="230.80" stroke="#000" stroke-width="1.3" stroke-linecap="butt"/>
<line x1="481.45" y1="228.50" x2="571.70" y2="228.50" stroke="#000" stroke-width="1.5" stroke-linecap="butt"/>
<text x="450.20" y="262.40" font-size="11.3" font-weight="bold" text-anchor="start" transform="rotate(-90 450.20 262.40)">Relative protein level</text>
<line x1="504.80" y1="158.80" x2="567.90" y2="158.80" stroke="#000" stroke-width="1.5" stroke-linecap="butt"/>
<text x="541.20" y="161.50" font-size="11" font-weight="bold" fill="#111" text-anchor="middle">***</text>
<line x1="504.40" y1="167.20" x2="553.30" y2="167.20" stroke="#000" stroke-width="1.5" stroke-linecap="butt"/>
<text x="530.10" y="169.70" font-size="11" font-weight="bold" fill="#111" text-anchor="middle">***</text>
<line x1="503.50" y1="174.00" x2="533.90" y2="174.00" stroke="#000" stroke-width="1.5" stroke-linecap="butt"/>
<text x="518.00" y="176.10" font-size="11" font-weight="bold" fill="#111" text-anchor="middle">**</text>
<text x="330.60" y="233.00" font-size="11.6" text-anchor="end" font-weight="bold" transform="rotate(-45 330.60 233.00)">Blank control</text>
<text x="349.60" y="233.80" font-size="11.6" text-anchor="end" font-weight="bold" transform="rotate(-45 349.60 233.80)">Negative control</text>
<text x="366.20" y="233.80" font-size="11.6" text-anchor="end" font-weight="bold" transform="rotate(-45 366.20 233.80)">IL-12</text>
<text x="384.20" y="233.80" font-size="11.6" text-anchor="end" font-weight="bold" transform="rotate(-45 384.20 233.80)">siRNA-STAT4</text>
<text x="404.20" y="233.00" font-size="11.6" text-anchor="end" font-weight="bold" transform="rotate(-45 404.20 233.00)">IL-12+siRNA-STAT4</text>
<text x="492.00" y="236.00" font-size="11.6" text-anchor="end" font-weight="bold" transform="rotate(-45 492.00 236.00)">Blank control</text>
<text x="509.50" y="236.00" font-size="11.6" text-anchor="end" font-weight="bold" transform="rotate(-45 509.50 236.00)">Negative control</text>
<text x="530.80" y="236.00" font-size="11.6" text-anchor="end" font-weight="bold" transform="rotate(-45 530.80 236.00)">IL-12</text>
<text x="547.40" y="236.00" font-size="11.6" text-anchor="end" font-weight="bold" transform="rotate(-45 547.40 236.00)">siRNA-STAT4</text>
<text x="565.80" y="236.00" font-size="11.6" text-anchor="end" font-weight="bold" transform="rotate(-45 565.80 236.00)">IL-12+siRNA-STAT4</text>
<line x1="23.90" y1="327.60" x2="503.20" y2="327.60" stroke="#000" stroke-width="1.4" stroke-linecap="butt"/>
<text x="3.80" y="340.90" font-size="11.2" text-anchor="start" font-weight="bold" fill="#000"  style="">F</text>
<text x="278.20" y="322.00" font-size="11.2" text-anchor="middle" font-weight="bold" fill="#000"  style="">L02</text>
<text x="3.00" y="382.60" font-size="11.1" text-anchor="start" font-weight="bold" fill="#000"  style="">STAT4</text>
<text x="0.60" y="406.40" font-size="11.0" text-anchor="start" font-weight="bold" fill="#000"  style="">CYP2E1</text>
<text x="1.40" y="426.00" font-size="11.1" text-anchor="start" font-weight="bold" fill="#000"  style="">GAPDH</text>
<text x="45.00" y="382.50" font-size="8.2" text-anchor="start" font-weight="bold" fill="#000"  style="">85KDa</text>
<text x="45.70" y="405.80" font-size="8.2" text-anchor="start" font-weight="bold" fill="#000"  style="">55KDa</text>
<text x="45.70" y="426.20" font-size="8.2" text-anchor="start" font-weight="bold" fill="#000"  style="">36KDa</text>
<rect x="72.80" y="375.70" width="135.00" height="13.30" fill="#ebebeb" stroke="#000" stroke-width="1.5"/>
<rect x="77.80" y="382.20" width="23.20" height="3.20" rx="1.60" fill="rgb(0,0,0)" filter="url(#blur2)"/>
<rect x="106.40" y="382.90" width="20.20" height="3.00" rx="1.50" fill="rgb(0,0,0)" filter="url(#blur2)"/>
<rect x="131.40" y="382.30" width="21.70" height="3.40" rx="1.70" fill="rgb(0,0,0)" filter="url(#blur2)"/>
<rect x="160.30" y="382.50" width="18.40" height="2.80" rx="1.40" fill="rgb(12,12,12)" filter="url(#blur2)"/>
<rect x="185.90" y="382.30" width="17.30" height="2.80" rx="1.40" fill="rgb(12,12,12)" filter="url(#blur2)"/>
<rect x="72.80" y="398.10" width="135.00" height="13.50" fill="#e6e6e6" stroke="#000" stroke-width="1.5"/>
<rect x="74.20" y="402.60" width="23.20" height="3.20" rx="1.60" fill="rgb(0,0,0)" filter="url(#blur2)"/>
<rect x="101.60" y="401.70" width="20.90" height="3.40" rx="1.70" fill="rgb(0,0,0)" filter="url(#blur2)"/>
<rect x="126.60" y="401.20" width="25.40" height="4.00" rx="2.00" fill="rgb(0,0,0)" filter="url(#blur2)"/>
<rect x="156.70" y="401.20" width="19.10" height="2.40" rx="1.20" fill="rgb(50,50,50)" filter="url(#blur2)"/>
<rect x="182.30" y="401.20" width="20.30" height="2.00" rx="1.00" fill="rgb(127,127,127)" filter="url(#blur2)"/>
<rect x="74.20" y="407.30" width="23.20" height="2.60" rx="1.30" fill="rgb(219,219,219)" filter="url(#blur2)"/>
<rect x="101.60" y="407.00" width="20.90" height="2.60" rx="1.30" fill="rgb(211,211,211)" filter="url(#blur2)"/>
<rect x="126.60" y="407.10" width="25.40" height="2.80" rx="1.40" fill="rgb(209,209,209)" filter="url(#blur2)"/>
<rect x="156.70" y="406.70" width="19.10" height="2.20" rx="1.10" fill="rgb(237,237,237)" filter="url(#blur2)"/>
<rect x="72.80" y="417.00" width="135.00" height="13.40" fill="#ececec" stroke="#000" stroke-width="1.5"/>
<rect x="78.60" y="421.50" width="21.40" height="4.60" rx="2.30" fill="rgb(0,0,0)" filter="url(#blur2)"/>
<rect x="105.80" y="421.70" width="21.20" height="4.60" rx="2.30" fill="rgb(0,0,0)" filter="url(#blur2)"/>
<rect x="131.40" y="421.40" width="21.10" height="4.80" rx="2.40" fill="rgb(0,0,0)" filter="url(#blur2)"/>
<rect x="157.30" y="421.30" width="20.60" height="4.80" rx="2.40" fill="rgb(0,0,0)" filter="url(#blur2)"/>
<rect x="182.30" y="421.10" width="20.30" height="4.80" rx="2.40" fill="rgb(0,0,0)" filter="url(#blur2)"/>
<text x="74.80" y="437.20" font-size="11.6" text-anchor="end" font-weight="bold" transform="rotate(-45 74.80 437.20)">Blank control</text>
<text x="101.20" y="438.60" font-size="11.6" text-anchor="end" font-weight="bold" transform="rotate(-45 101.20 438.60)">Negative control</text>
<text x="127.00" y="438.60" font-size="11.6" text-anchor="end" font-weight="bold" transform="rotate(-45 127.00 438.60)">IL-12</text>
<text x="152.50" y="439.10" font-size="11.6" text-anchor="end" font-weight="bold" transform="rotate(-45 152.50 439.10)">siRNA-STAT4</text>
<text x="178.80" y="440.00" font-size="11.6" text-anchor="end" font-weight="bold" transform="rotate(-45 178.80 440.00)">IL-12+siRNA-STAT4</text>
<text x="283.60" y="339.80" font-size="11.6" text-anchor="middle" font-weight="bold" fill="#000"  style="">STAT4</text>
<line x1="246.70" y1="366.20" x2="246.70" y2="437.15" stroke="#000" stroke-width="1.5" stroke-linecap="butt"/>
<line x1="241.50" y1="435.70" x2="246.70" y2="435.70" stroke="#000" stroke-width="1.3" stroke-linecap="butt"/>
<text x="240.40" y="440.30" font-size="11" text-anchor="end" font-weight="bold" fill="#000"  style="">0.0</text>
<line x1="241.50" y1="418.50" x2="246.70" y2="418.50" stroke="#000" stroke-width="1.3" stroke-linecap="butt"/>
<text x="240.40" y="423.10" font-size="11" text-anchor="end" font-weight="bold" fill="#000"  style="">0.2</text>
<line x1="241.50" y1="401.30" x2="246.70" y2="401.30" stroke="#000" stroke-width="1.3" stroke-linecap="butt"/>
<text x="240.40" y="405.90" font-size="11" text-anchor="end" font-weight="bold" fill="#000"  style="">0.4</text>
<line x1="241.50" y1="384.10" x2="246.70" y2="384.10" stroke="#000" stroke-width="1.3" stroke-linecap="butt"/>
<text x="240.40" y="388.70" font-size="11" text-anchor="end" font-weight="bold" fill="#000"  style="">0.6</text>
<line x1="241.50" y1="366.90" x2="246.70" y2="366.90" stroke="#000" stroke-width="1.3" stroke-linecap="butt"/>
<text x="240.40" y="371.50" font-size="11" text-anchor="end" font-weight="bold" fill="#000"  style="">0.8</text>
<line x1="258.75" y1="401.00" x2="258.75" y2="402.20" stroke="#000" stroke-width="1.4" stroke-linecap="butt"/>
<line x1="255.05" y1="401.00" x2="262.45" y2="401.00" stroke="#000" stroke-width="1.4" stroke-linecap="butt"/>
<rect x="253.45" y="402.95" width="10.60" height="33.45" fill="#fff" stroke="#000" stroke-width="1.5"/>
<line x1="258.75" y1="436.40" x2="258.75" y2="440.20" stroke="#000" stroke-width="1.3" stroke-linecap="butt"/>
<line x1="277.55" y1="398.20" x2="277.55" y2="402.60" stroke="#000" stroke-width="1.4" stroke-linecap="butt"/>
<line x1="273.85" y1="398.20" x2="281.25" y2="398.20" stroke="#000" stroke-width="1.4" stroke-linecap="butt"/>
<rect x="272.25" y="403.35" width="10.60" height="33.05" fill="#f4ef9d" stroke="#000" stroke-width="1.5"/>
<line x1="277.55" y1="436.40" x2="277.55" y2="440.20" stroke="#000" stroke-width="1.3" stroke-linecap="butt"/>
<line x1="295.75" y1="384.40" x2="295.75" y2="386.90" stroke="#000" stroke-width="1.4" stroke-linecap="butt"/>
<line x1="292.05" y1="384.40" x2="299.45" y2="384.40" stroke="#000" stroke-width="1.4" stroke-linecap="butt"/>
<rect x="290.45" y="387.65" width="10.60" height="48.75" fill="#c6d9f0" stroke="#000" stroke-width="1.5"/>
<line x1="295.75" y1="436.40" x2="295.75" y2="440.20" stroke="#000" stroke-width="1.3" stroke-linecap="butt"/>
<line x1="314.25" y1="415.80" x2="314.25" y2="417.10" stroke="#000" stroke-width="1.4" stroke-linecap="butt"/>
<line x1="310.55" y1="415.80" x2="317.95" y2="415.80" stroke="#000" stroke-width="1.4" stroke-linecap="butt"/>
<rect x="308.95" y="417.85" width="10.60" height="18.55" fill="#f19ea0" stroke="#000" stroke-width="1.5"/>
<line x1="314.25" y1="436.40" x2="314.25" y2="440.20" stroke="#000" stroke-width="1.3" stroke-linecap="butt"/>
<line x1="332.55" y1="416.00" x2="332.55" y2="417.30" stroke="#000" stroke-width="1.4" stroke-linecap="butt"/>
<line x1="328.85" y1="416.00" x2="336.25" y2="416.00" stroke="#000" stroke-width="1.4" stroke-linecap="butt"/>
<rect x="327.25" y="418.05" width="10.60" height="18.35" fill="#e8161b" stroke="#000" stroke-width="1.5"/>
<line x1="332.55" y1="436.40" x2="332.55" y2="440.20" stroke="#000" stroke-width="1.3" stroke-linecap="butt"/>
<line x1="245.95" y1="436.40" x2="345.00" y2="436.40" stroke="#000" stroke-width="1.5" stroke-linecap="butt"/>
<text x="218.20" y="466.50" font-size="11.05" font-weight="bold" text-anchor="start" transform="rotate(-90 218.20 466.50)">Relative protein level</text>
<line x1="278.30" y1="357.90" x2="336.40" y2="357.90" stroke="#000" stroke-width="1.5" stroke-linecap="butt"/>
<text x="311.20" y="359.30" font-size="11" font-weight="bold" fill="#111" text-anchor="middle">***</text>
<line x1="277.30" y1="370.30" x2="326.40" y2="370.30" stroke="#000" stroke-width="1.5" stroke-linecap="butt"/>
<text x="303.00" y="371.30" font-size="11" font-weight="bold" fill="#111" text-anchor="middle">***</text>
<line x1="276.60" y1="381.00" x2="304.70" y2="381.00" stroke="#000" stroke-width="1.5" stroke-linecap="butt"/>
<text x="290.90" y="382.80" font-size="11" font-weight="bold" fill="#111" text-anchor="middle">**</text>
<text x="452.80" y="339.80" font-size="11.2" text-anchor="middle" font-weight="bold" fill="#000"  style="">CYP2E1</text>
<line x1="397.80" y1="356.70" x2="397.80" y2="439.05" stroke="#000" stroke-width="1.5" stroke-linecap="butt"/>
<line x1="392.50" y1="437.50" x2="397.80" y2="437.50" stroke="#000" stroke-width="1.3" stroke-linecap="butt"/>
<text x="391.20" y="442.00" font-size="11" text-anchor="end" font-weight="bold" fill="#000"  style="">0.0</text>
<line x1="392.50" y1="421.48" x2="397.80" y2="421.48" stroke="#000" stroke-width="1.3" stroke-linecap="butt"/>
<text x="391.20" y="425.98" font-size="11" text-anchor="end" font-weight="bold" fill="#000"  style="">0.2</text>
<line x1="392.50" y1="405.46" x2="397.80" y2="405.46" stroke="#000" stroke-width="1.3" stroke-linecap="butt"/>
<text x="391.20" y="409.96" font-size="11" text-anchor="end" font-weight="bold" fill="#000"  style="">0.4</text>
<line x1="392.50" y1="389.44" x2="397.80" y2="389.44" stroke="#000" stroke-width="1.3" stroke-linecap="butt"/>
<text x="391.20" y="393.94" font-size="11" text-anchor="end" font-weight="bold" fill="#000"  style="">0.6</text>
<line x1="392.50" y1="373.42" x2="397.80" y2="373.42" stroke="#000" stroke-width="1.3" stroke-linecap="butt"/>
<text x="391.20" y="377.92" font-size="11" text-anchor="end" font-weight="bold" fill="#000"  style="">0.8</text>
<line x1="392.50" y1="357.40" x2="397.80" y2="357.40" stroke="#000" stroke-width="1.3" stroke-linecap="butt"/>
<text x="391.20" y="361.90" font-size="11" text-anchor="end" font-weight="bold" fill="#000"  style="">1.0</text>
<line x1="410.60" y1="406.00" x2="410.60" y2="408.30" stroke="#000" stroke-width="1.4" stroke-linecap="butt"/>
<line x1="406.90" y1="406.00" x2="414.30" y2="406.00" stroke="#000" stroke-width="1.4" stroke-linecap="butt"/>
<rect x="404.95" y="409.05" width="11.30" height="29.25" fill="#fff" stroke="#000" stroke-width="1.5"/>
<line x1="410.60" y1="438.30" x2="410.60" y2="442.10" stroke="#000" stroke-width="1.3" stroke-linecap="butt"/>
<line x1="429.80" y1="402.70" x2="429.80" y2="406.30" stroke="#000" stroke-width="1.4" stroke-linecap="butt"/>
<line x1="426.10" y1="402.70" x2="433.50" y2="402.70" stroke="#000" stroke-width="1.4" stroke-linecap="butt"/>
<rect x="424.15" y="407.05" width="11.30" height="31.25" fill="#f4ef9d" stroke="#000" stroke-width="1.5"/>
<line x1="429.80" y1="438.30" x2="429.80" y2="442.10" stroke="#000" stroke-width="1.3" stroke-linecap="butt"/>
<line x1="449.60" y1="374.20" x2="449.60" y2="375.00" stroke="#000" stroke-width="1.4" stroke-linecap="butt"/>
<line x1="445.90" y1="374.20" x2="453.30" y2="374.20" stroke="#000" stroke-width="1.4" stroke-linecap="butt"/>
<rect x="443.95" y="375.75" width="11.30" height="62.55" fill="#c6d9f0" stroke="#000" stroke-width="1.5"/>
<line x1="449.60" y1="438.30" x2="449.60" y2="442.10" stroke="#000" stroke-width="1.3" stroke-linecap="butt"/>
<line x1="469.20" y1="421.50" x2="469.20" y2="422.00" stroke="#000" stroke-width="1.4" stroke-linecap="butt"/>
<line x1="465.50" y1="421.50" x2="472.90" y2="421.50" stroke="#000" stroke-width="1.4" stroke-linecap="butt"/>
<rect x="463.55" y="422.75" width="11.30" height="15.55" fill="#f19ea0" stroke="#000" stroke-width="1.5"/>
<line x1="469.20" y1="438.30" x2="469.20" y2="442.10" stroke="#000" stroke-width="1.3" stroke-linecap="butt"/>
<line x1="488.80" y1="426.50" x2="488.80" y2="427.60" stroke="#000" stroke-width="1.4" stroke-linecap="butt"/>
<line x1="485.10" y1="426.50" x2="492.50" y2="426.50" stroke="#000" stroke-width="1.4" stroke-linecap="butt"/>
<rect x="483.15" y="428.35" width="11.30" height="9.95" fill="#e8161b" stroke="#000" stroke-width="1.5"/>
<line x1="488.80" y1="438.30" x2="488.80" y2="442.10" stroke="#000" stroke-width="1.3" stroke-linecap="butt"/>
<line x1="397.05" y1="438.30" x2="503.60" y2="438.30" stroke="#000" stroke-width="1.5" stroke-linecap="butt"/>
<text x="374.00" y="466.90" font-size="11.05" font-weight="bold" text-anchor="start" transform="rotate(-90 374.00 466.90)">Relative protein level</text>
<line x1="423.50" y1="351.70" x2="503.10" y2="351.70" stroke="#000" stroke-width="1.5" stroke-linecap="butt"/>
<text x="466.70" y="352.80" font-size="11" font-weight="bold" fill="#111" text-anchor="middle">***</text>
<line x1="424.30" y1="361.50" x2="483.90" y2="361.50" stroke="#000" stroke-width="1.5" stroke-linecap="butt"/>
<text x="453.50" y="362.80" font-size="11" font-weight="bold" fill="#111" text-anchor="middle">***</text>
<line x1="424.30" y1="370.80" x2="459.70" y2="370.80" stroke="#000" stroke-width="1.5" stroke-linecap="butt"/>
<text x="442.60" y="372.70" font-size="11" font-weight="bold" fill="#111" text-anchor="middle">***</text>
<text x="258.70" y="447.80" font-size="11.6" text-anchor="end" font-weight="bold" transform="rotate(-45 258.70 447.80)">Blank control</text>
<text x="276.50" y="447.80" font-size="11.6" text-anchor="end" font-weight="bold" transform="rotate(-45 276.50 447.80)">Negative control</text>
<text x="292.20" y="448.50" font-size="11.6" text-anchor="end" font-weight="bold" transform="rotate(-45 292.20 448.50)">IL-12</text>
<text x="311.20" y="447.80" font-size="11.6" text-anchor="end" font-weight="bold" transform="rotate(-45 311.20 447.80)">siRNA-STAT4</text>
<text x="330.20" y="447.80" font-size="11.6" text-anchor="end" font-weight="bold" transform="rotate(-45 330.20 447.80)">IL-12+siRNA-STAT4</text>
<text x="418.00" y="449.70" font-size="11.6" text-anchor="end" font-weight="bold" transform="rotate(-45 418.00 449.70)">Blank control</text>
<text x="434.80" y="450.10" font-size="11.6" text-anchor="end" font-weight="bold" transform="rotate(-45 434.80 450.10)">Negative control</text>
<text x="457.20" y="450.50" font-size="11.6" text-anchor="end" font-weight="bold" transform="rotate(-45 457.20 450.50)">IL-12</text>
<text x="474.00" y="450.10" font-size="11.6" text-anchor="end" font-weight="bold" transform="rotate(-45 474.00 450.10)">siRNA-STAT4</text>
<text x="494.00" y="450.50" font-size="11.6" text-anchor="end" font-weight="bold" transform="rotate(-45 494.00 450.50)">IL-12+siRNA-STAT4</text>
<text x="520.80" y="342.20" font-size="11.2" text-anchor="start" font-weight="bold" fill="#000"  style="">G</text>
<line x1="580.50" y1="376.70" x2="580.50" y2="444.65" stroke="#000" stroke-width="1.5" stroke-linecap="butt"/>
<line x1="578.30" y1="444.00" x2="580.50" y2="444.00" stroke="#000" stroke-width="1.3" stroke-linecap="butt"/>
<text x="576.50" y="445.90" font-size="11" text-anchor="end" font-weight="bold" fill="#000"  style="">0</text>
<line x1="578.30" y1="422.30" x2="580.50" y2="422.30" stroke="#000" stroke-width="1.3" stroke-linecap="butt"/>
<text x="576.50" y="424.70" font-size="11" text-anchor="end" font-weight="bold" fill="#000"  style="">2</text>
<line x1="578.30" y1="400.40" x2="580.50" y2="400.40" stroke="#000" stroke-width="1.3" stroke-linecap="butt"/>
<text x="576.50" y="403.40" font-size="11" text-anchor="end" font-weight="bold" fill="#000"  style="">4</text>
<line x1="578.30" y1="377.60" x2="580.50" y2="377.60" stroke="#000" stroke-width="1.3" stroke-linecap="butt"/>
<text x="576.50" y="380.60" font-size="11" text-anchor="end" font-weight="bold" fill="#000"  style="">6</text>
<line x1="590.80" y1="434.40" x2="590.80" y2="435.50" stroke="#000" stroke-width="1.4" stroke-linecap="butt"/>
<line x1="587.10" y1="434.40" x2="594.50" y2="434.40" stroke="#000" stroke-width="1.4" stroke-linecap="butt"/>
<rect x="584.35" y="436.25" width="12.90" height="7.65" fill="#fff" stroke="#000" stroke-width="1.5"/>
<line x1="590.80" y1="443.90" x2="590.80" y2="446.20" stroke="#000" stroke-width="1.3" stroke-linecap="butt"/>
<rect x="604.05" y="432.95" width="12.90" height="10.95" fill="#ede437" stroke="#000" stroke-width="1.5"/>
<line x1="610.50" y1="443.90" x2="610.50" y2="446.20" stroke="#000" stroke-width="1.3" stroke-linecap="butt"/>
<line x1="623.00" y1="442.90" x2="637.40" y2="442.90" stroke="#000" stroke-width="1.3" stroke-linecap="butt"/>
<line x1="630.20" y1="443.90" x2="630.20" y2="446.20" stroke="#000" stroke-width="1.3" stroke-linecap="butt"/>
<line x1="650.30" y1="398.00" x2="650.30" y2="405.20" stroke="#000" stroke-width="1.4" stroke-linecap="butt"/>
<line x1="646.60" y1="398.00" x2="654.00" y2="398.00" stroke="#000" stroke-width="1.4" stroke-linecap="butt"/>
<rect x="643.85" y="405.95" width="12.90" height="37.95" fill="#f5b8d3" stroke="#000" stroke-width="1.5"/>
<line x1="650.30" y1="443.90" x2="650.30" y2="446.20" stroke="#000" stroke-width="1.3" stroke-linecap="butt"/>
<line x1="670.40" y1="381.40" x2="670.40" y2="392.70" stroke="#000" stroke-width="1.4" stroke-linecap="butt"/>
<line x1="666.70" y1="381.40" x2="674.10" y2="381.40" stroke="#000" stroke-width="1.4" stroke-linecap="butt"/>
<rect x="663.95" y="393.45" width="12.90" height="50.45" fill="#e8161b" stroke="#000" stroke-width="1.5"/>
<line x1="670.40" y1="443.90" x2="670.40" y2="446.20" stroke="#000" stroke-width="1.3" stroke-linecap="butt"/>
<line x1="579.75" y1="443.90" x2="680.60" y2="443.90" stroke="#000" stroke-width="1.5" stroke-linecap="butt"/>
<text x="547.50" y="460.60" font-size="11.4" font-weight="bold" text-anchor="start" transform="rotate(-90 547.50 460.60)">Relative luciferass</text>
<line x1="592.90" y1="375.00" x2="651.00" y2="375.00" stroke="#000" stroke-width="1.5" stroke-linecap="butt"/>
<text x="621.20" y="375.60" font-size="11" font-weight="bold" fill="#111" text-anchor="middle">*</text>
<line x1="612.20" y1="385.50" x2="651.50" y2="385.50" stroke="#000" stroke-width="1.5" stroke-linecap="butt"/>
<text x="628.80" y="386.50" font-size="11" font-weight="bold" fill="#111" text-anchor="middle">*</text>
<line x1="622.40" y1="394.00" x2="647.10" y2="394.00" stroke="#000" stroke-width="1.5" stroke-linecap="butt"/>
<text x="636.30" y="396.10" font-size="11" font-weight="bold" fill="#111" text-anchor="middle">**</text>
<text x="560.7" y="415.4" font-size="11.4" font-weight="bold" text-anchor="middle" transform="rotate(-90 560.7 415.4)">activity(fold)</text>
<text x="592.00" y="455.20" font-size="11.6" text-anchor="end" font-weight="bold" transform="rotate(-45 592.00 455.20)">Promoter-NC +TFs</text>
<text x="612.30" y="455.20" font-size="11.6" text-anchor="end" font-weight="bold" transform="rotate(-45 612.30 455.20)">Promoter+TFs-NC</text>
<text x="632.30" y="455.20" font-size="11.6" text-anchor="end" font-weight="bold" transform="rotate(-45 632.30 455.20)">Promoter-NC+TFs-NC</text>
<text x="652.60" y="455.20" font-size="11.6" text-anchor="end" font-weight="bold" transform="rotate(-45 652.60 455.20)">Promoter+TFs</text>
<text x="672.80" y="457.30" font-size="11.6" text-anchor="end" font-weight="bold" transform="rotate(-45 672.80 457.30)">Promoter</text>
</svg>
</body></html>
